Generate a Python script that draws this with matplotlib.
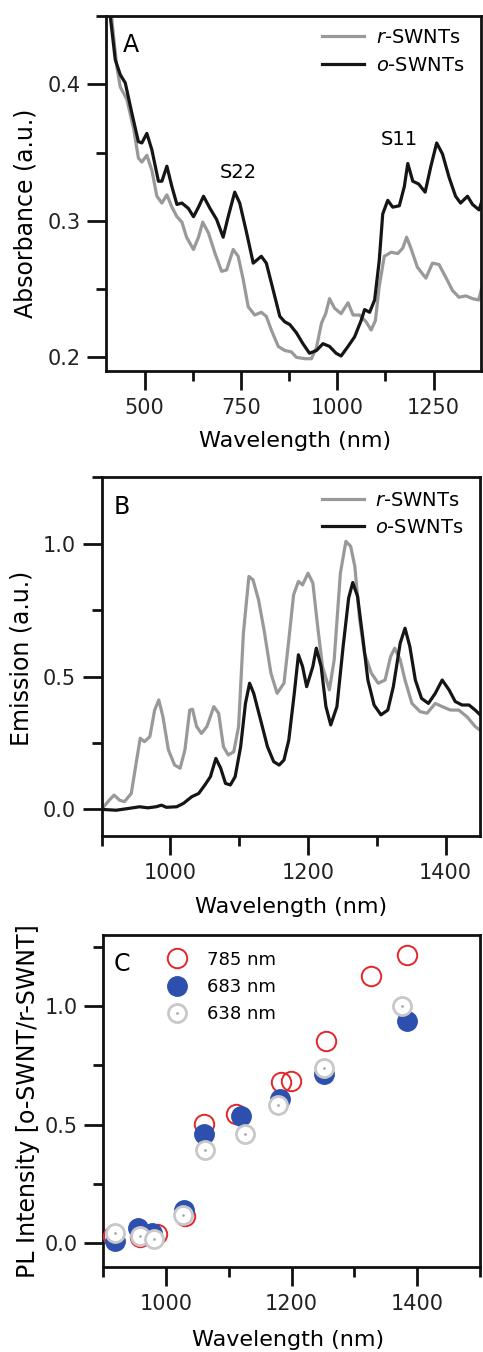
import matplotlib
matplotlib.use("Agg")
import matplotlib.pyplot as plt
from matplotlib.ticker import MultipleLocator

plt.rcParams['font.family'] = ['DejaVu Sans']
plt.rcParams['mathtext.fontset'] = 'dejavusans'

# ---------------- Panel A: absorbance ----------------
abs_wl_o = [405, 411, 424, 437, 450, 467, 484, 493, 506, 519,
            536, 545, 558, 571, 584, 597, 614, 627, 640, 653,
            670, 687, 704, 717, 734, 747, 765, 782, 803, 816,
            834, 851, 864, 877, 894, 911, 928, 946, 963, 980,
            997, 1010, 1028, 1045, 1062, 1071, 1084, 1097, 1109, 1118,
            1131, 1144, 1161, 1174, 1183, 1196, 1211, 1228, 1243, 1258,
            1273, 1290, 1307, 1320, 1338, 1351, 1368, 1376]
abs_o = [0.475, 0.450, 0.418, 0.407, 0.401, 0.379, 0.358, 0.357, 0.364, 0.352,
         0.329, 0.329, 0.340, 0.325, 0.312, 0.313, 0.309, 0.303, 0.310, 0.318,
         0.309, 0.301, 0.288, 0.303, 0.321, 0.313, 0.291, 0.269, 0.274, 0.269,
         0.249, 0.230, 0.226, 0.224, 0.218, 0.210, 0.203, 0.205, 0.210, 0.208,
         0.203, 0.201, 0.208, 0.215, 0.227, 0.235, 0.233, 0.242, 0.271, 0.305,
         0.315, 0.310, 0.311, 0.325, 0.342, 0.329, 0.327, 0.321, 0.340, 0.357,
         0.349, 0.332, 0.318, 0.313, 0.318, 0.312, 0.308, 0.315]

abs_wl_r = [407, 416, 428, 437, 454, 472, 484, 493, 506, 519,
            532, 545, 558, 571, 584, 597, 609, 627, 640, 651,
            666, 683, 700, 713, 730, 743, 756, 769, 786, 803,
            816, 829, 847, 864, 881, 894, 916, 933, 946, 959,
            970, 980, 993, 1010, 1028, 1041, 1058, 1075, 1088, 1099,
            1109, 1122, 1140, 1157, 1170, 1180, 1191, 1208, 1230, 1247,
            1264, 1281, 1299, 1316, 1334, 1351, 1367, 1375]
abs_r = [0.475, 0.445, 0.413, 0.398, 0.389, 0.367, 0.346, 0.343, 0.348, 0.337,
         0.318, 0.313, 0.319, 0.310, 0.303, 0.299, 0.288, 0.279, 0.288, 0.299,
         0.291, 0.276, 0.263, 0.264, 0.279, 0.274, 0.257, 0.237, 0.231, 0.233,
         0.230, 0.220, 0.208, 0.205, 0.204, 0.200, 0.199, 0.199, 0.207, 0.225,
         0.232, 0.243, 0.236, 0.232, 0.240, 0.231, 0.231, 0.226, 0.220, 0.227,
         0.252, 0.274, 0.277, 0.276, 0.280, 0.288, 0.280, 0.266, 0.258, 0.269,
         0.268, 0.259, 0.249, 0.244, 0.245, 0.243, 0.242, 0.251]

# ---------------- Panel B: emission ----------------
em_wl_r = [901, 911, 918, 926, 933, 943, 950, 956, 962, 970,
           977, 983, 989, 997, 1006, 1014, 1021, 1028, 1032, 1038,
           1045, 1053, 1063, 1070, 1077, 1084, 1092, 1099, 1106, 1114,
           1120, 1128, 1136, 1146, 1155, 1165, 1171, 1179, 1186, 1192,
           1200, 1207, 1214, 1221, 1231, 1238, 1247, 1255, 1262, 1268,
           1275, 1282, 1292, 1302, 1312, 1320, 1326, 1334, 1341, 1351,
           1363, 1373, 1385, 1395, 1407, 1419, 1431, 1443, 1453]
em_r = [0.004, 0.035, 0.054, 0.035, 0.029, 0.060, 0.173, 0.268, 0.255, 0.274,
        0.374, 0.412, 0.349, 0.224, 0.167, 0.155, 0.224, 0.374, 0.377, 0.312,
        0.286, 0.312, 0.387, 0.362, 0.236, 0.205, 0.217, 0.312, 0.663, 0.877,
        0.864, 0.789, 0.676, 0.513, 0.437, 0.475, 0.613, 0.808, 0.858, 0.845,
        0.889, 0.852, 0.688, 0.538, 0.450, 0.563, 0.889, 1.009, 0.990, 0.915,
        0.714, 0.588, 0.513, 0.475, 0.487, 0.575, 0.607, 0.563, 0.487, 0.399,
        0.368, 0.362, 0.399, 0.387, 0.374, 0.374, 0.349, 0.312, 0.293]

em_wl_o = [901, 921, 940, 955, 967, 979, 987, 994, 1009, 1019,
           1031, 1041, 1050, 1058, 1066, 1073, 1080, 1087, 1094, 1102,
           1109, 1115, 1121, 1131, 1141, 1150, 1158, 1165, 1172, 1180,
           1186, 1192, 1198, 1207, 1212, 1219, 1226, 1233, 1242, 1251,
           1259, 1265, 1272, 1280, 1287, 1296, 1306, 1316, 1324, 1334,
           1341, 1348, 1356, 1365, 1375, 1385, 1395, 1405, 1414, 1424,
           1434, 1443, 1453]
em_o = [0.0, -0.003, 0.004, 0.010, 0.006, 0.010, 0.016, 0.008, 0.010, 0.023,
        0.048, 0.060, 0.092, 0.123, 0.192, 0.155, 0.098, 0.092, 0.123, 0.236,
        0.399, 0.475, 0.437, 0.337, 0.236, 0.180, 0.167, 0.186, 0.261, 0.437,
        0.582, 0.538, 0.462, 0.538, 0.607, 0.538, 0.387, 0.318, 0.387, 0.613,
        0.795, 0.854, 0.802, 0.638, 0.487, 0.393, 0.356, 0.374, 0.462, 0.626,
        0.682, 0.613, 0.487, 0.418, 0.399, 0.437, 0.487, 0.450, 0.406, 0.393,
        0.393, 0.374, 0.349]

# ---------------- Panel C: PL ratio ----------------
pl_wl_785 = [916, 959, 985, 1030, 1061, 1111, 1183, 1199, 1254, 1326, 1383]
pl_785 = [0.03, 0.024, 0.038, 0.116, 0.503, 0.544, 0.678, 0.683, 0.853, 1.129, 1.217]
pl_wl_683 = [918, 956, 978, 1028, 1061, 1120, 1182, 1251, 1383]
pl_683 = [0.007, 0.064, 0.041, 0.140, 0.459, 0.534, 0.609, 0.715, 0.938]
pl_wl_638 = [919, 959, 980, 1027, 1062, 1126, 1178, 1251, 1375]
pl_638 = [0.042, 0.031, 0.017, 0.119, 0.392, 0.460, 0.581, 0.737, 1.001]

labels_AB = [r'$\it{r}$-SWNTs', r'$\it{o}$-SWNTs']
labels_C = ['785 nm', '683 nm', '638 nm']

GRAY = '#999999'
BLACK = '#151515'

W, H = 483, 1352
fig = plt.figure(figsize=(W / 100, H / 100), dpi=100)


def ax_px(left, top, right, bottom):
    return fig.add_axes([left / W, 1 - bottom / H, (right - left) / W, (bottom - top) / H])


axA = ax_px(106, 16, 481, 371)
axB = ax_px(101.7, 477.3, 480, 836)
axC = ax_px(103.3, 935, 480, 1266.7)

TICK_FS = 15
XL_FS = 16
YL_FS = 17
LEG_FS = 14


def style(ax):
    for s in ax.spines.values():
        s.set_linewidth(2.0)
        s.set_color('#111111')
    ax.tick_params(which='both', direction='out', width=2.0, colors='#111111',
                   top=False, right=False)
    ax.tick_params(which='major', length=13.5, labelsize=TICK_FS)
    ax.tick_params(which='minor', length=7.5)
    ax.tick_params(axis='x', which='major', pad=6)
    ax.tick_params(axis='y', which='major', pad=5)
    for t in ax.get_xticklabels() + ax.get_yticklabels():
        t.set_color('#222222')


# Panel A
lw = 2.3
axA.plot(abs_wl_r, abs_r, color=GRAY, lw=lw, solid_joinstyle='round', label=labels_AB[0])
axA.plot(abs_wl_o, abs_o, color=BLACK, lw=lw, solid_joinstyle='round', label=labels_AB[1])
axA.set_xlim(400, 1373)
axA.set_ylim(0.19, 0.45)
axA.xaxis.set_major_locator(MultipleLocator(250))
axA.xaxis.set_minor_locator(MultipleLocator(125))
axA.yaxis.set_major_locator(MultipleLocator(0.1))
axA.yaxis.set_minor_locator(MultipleLocator(0.05))
axA.yaxis.set_major_formatter(plt.FuncFormatter(lambda v, p: f'{v:.1f}'))
style(axA)
axA.text(743, 0.331, 'S22', ha='center', va='baseline', fontsize=14)
axA.text(1161, 0.3555, 'S11', ha='center', va='baseline', fontsize=14)
axA.text(0.044, 0.899, 'A', transform=axA.transAxes, ha='left', va='baseline', fontsize=17)
axA.legend(loc='center left', bbox_to_anchor=(0.577, 0.901), frameon=False,
           fontsize=LEG_FS, handlelength=2.15, handletextpad=0.6, labelspacing=0.45,
           borderpad=0, borderaxespad=0)
axA.set_xlabel('Wavelength (nm)', fontsize=XL_FS, va='center')
axA.xaxis.set_label_coords(0.503, -0.197)
axA.set_ylabel('Absorbance (a.u.)', fontsize=YL_FS, va='center')
axA.yaxis.set_label_coords(-0.215, 0.445)

# Panel B
axB.plot(em_wl_r, em_r, color=GRAY, lw=lw, solid_joinstyle='round', label=labels_AB[0])
axB.plot(em_wl_o, em_o, color=BLACK, lw=lw, solid_joinstyle='round', label=labels_AB[1])
axB.set_xlim(900, 1450)
axB.set_ylim(-0.1, 1.25)
axB.xaxis.set_major_locator(MultipleLocator(200))
axB.xaxis.set_minor_locator(MultipleLocator(100))
axB.yaxis.set_major_locator(MultipleLocator(0.5))
axB.yaxis.set_minor_locator(MultipleLocator(0.25))
axB.yaxis.set_major_formatter(plt.FuncFormatter(lambda v, p: f'{v:.1f}'))
style(axB)
axB.text(0.031, 0.898, 'B', transform=axB.transAxes, ha='left', va='baseline', fontsize=17)
axB.legend(loc='center left', bbox_to_anchor=(0.582, 0.898), frameon=False,
           fontsize=LEG_FS, handlelength=2.15, handletextpad=0.6, labelspacing=0.38,
           borderpad=0, borderaxespad=0)
axB.set_xlabel('Wavelength (nm)', fontsize=XL_FS, va='center')
axB.xaxis.set_label_coords(0.5, -0.198)
axB.set_ylabel('Emission (a.u.)', fontsize=YL_FS, va='center')
axB.yaxis.set_label_coords(-0.2115, 0.496)

# Panel C
ms = 14
h785, = axC.plot(pl_wl_785, pl_785, 'o', ls='none', ms=ms, mfc='none', mec='#e3262b', mew=1.4, zorder=3)
h683, = axC.plot(pl_wl_683, pl_683, 'o', ls='none', ms=ms, mfc='#2d4fae', mec='#2d4fae', mew=1.0, zorder=4)
h638, = axC.plot(pl_wl_638, pl_638, 'o', ls='none', ms=ms - 1, mfc='white', mec='#c8c8c8', mew=2.0, zorder=5)
h638d, = axC.plot(pl_wl_638, pl_638, 'o', ls='none', ms=2, mfc='#aaaaaa', mec='none', zorder=6)
axC.set_xlim(900, 1500)
axC.set_ylim(-0.1, 1.3)
axC.xaxis.set_major_locator(MultipleLocator(200))
axC.xaxis.set_minor_locator(MultipleLocator(100))
axC.yaxis.set_major_locator(MultipleLocator(0.5))
axC.yaxis.set_minor_locator(MultipleLocator(0.25))
axC.yaxis.set_major_formatter(plt.FuncFormatter(lambda v, p: f'{v:.1f}'))
style(axC)
axC.text(0.0265, 0.892, 'C', transform=axC.transAxes, ha='left', va='baseline', fontsize=17)
axC.legend([h785, h683, (h638, h638d)], labels_C, loc='center left',
           bbox_to_anchor=(0.171, 0.843), frameon=False, fontsize=13,
           handlelength=1.0, handletextpad=1.15, labelspacing=0.52,
           borderpad=0, borderaxespad=0)
axC.set_xlabel('Wavelength (nm)', fontsize=XL_FS, va='center')
axC.xaxis.set_label_coords(0.49, -0.221)
axC.set_ylabel('PL Intensity [o-SWNT/r-SWNT]', fontsize=YL_FS, va='center')
axC.yaxis.set_label_coords(-0.199, 0.4995)

fig.savefig('out.png', dpi=100)
